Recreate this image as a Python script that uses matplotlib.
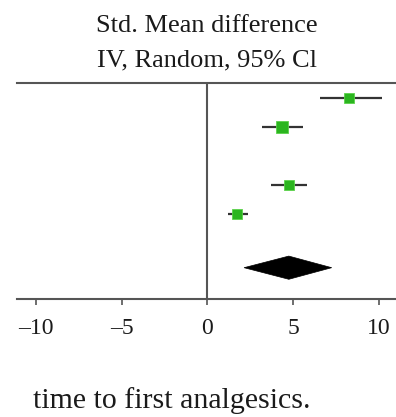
import matplotlib
matplotlib.use("Agg")
import matplotlib.pyplot as plt
from matplotlib.patches import Polygon

# Data
smd = [8.28, 4.34, 4.75, 1.75]
ci_low = [6.57, 3.17, 3.71, 1.22]
ci_high = [10.2, 5.60, 5.81, 2.35]
weights = [24.5, 26.5, 24.5, 23.0]   # relative study weights (marker size)
rows = [1, 2, 4, 5]
pooled = 4.75
pooled_low = 2.14
pooled_high = 7.25
pooled_row = 6.84
xticks = [-10, -5, 0, 5, 10]
xticklabels = ["\u201310", "\u20135", "0", "5", "10"]

plt.rcParams['font.family'] = ['Liberation Serif', 'DejaVu Serif']

fig = plt.figure(figsize=(3.96, 4.17), dpi=100)
ax = fig.add_axes([17/396, 1 - 299/417, 1 - 17/396, (299 - 83)/417])

ax.set_xlim(-11.1, 11.0)
ax.set_ylim(7.92, 0.47)

# zero line
ax.axvline(0, color="#555555", lw=1.5, zorder=1)

green = "#2bb51f"
for m, lo, hi, w, r in zip(smd, ci_low, ci_high, weights, rows):
    ax.plot([lo, hi], [r, r], color="#333333", lw=1.6, zorder=2, solid_capstyle="butt")
    ax.plot([m], [r], marker="s", ms=w / 3.1, color=green,
            markeredgecolor="#5bd24a", markeredgewidth=0.6, zorder=3)

h = 0.40
diamond = Polygon([[pooled_low, pooled_row], [pooled, pooled_row - h],
                   [pooled_high, pooled_row], [pooled, pooled_row + h]],
                  closed=True, facecolor="black", edgecolor="black", lw=0.5, zorder=3)
ax.add_patch(diamond)

for s in ["left", "right"]:
    ax.spines[s].set_visible(False)
for s in ["top", "bottom"]:
    ax.spines[s].set_color("#555555")
    ax.spines[s].set_linewidth(1.5)

ax.set_yticks([])
ax.set_xticks(xticks)
ax.set_xticklabels(xticklabels, fontsize=17)
ax.tick_params(axis="x", direction="out", length=4, width=1.2, color="#555555",
               pad=10, labelcolor="#1a1a1a")

fig.text(207/396, 1 - 32/417, "Std. Mean difference", ha="center", va="baseline",
         fontsize=19, color="#1a1a1a")
fig.text(207/396, 1 - 66/417, "IV, Random, 95% Cl", ha="center", va="baseline",
         fontsize=19, color="#1a1a1a")
fig.text(33/396, 1 - 408/417, "time to first analgesics.", ha="left", va="baseline",
         fontsize=21.5, color="#1a1a1a")

fig.savefig("out.png", dpi=100)
